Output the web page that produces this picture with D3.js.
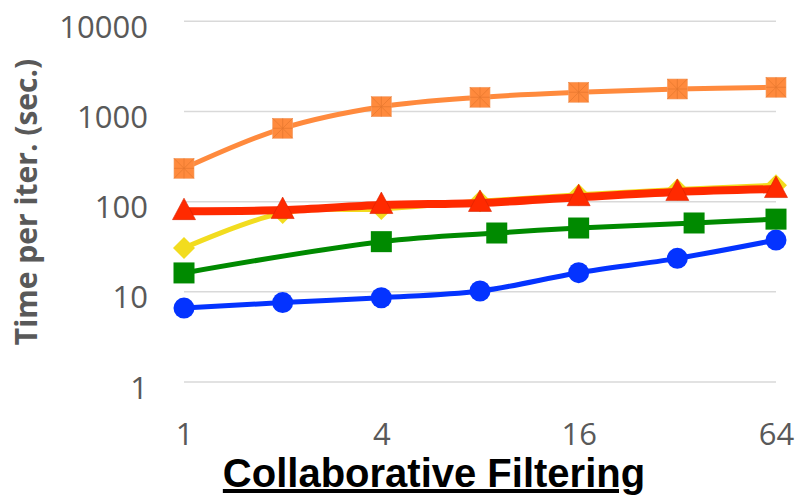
<!DOCTYPE html>
<html>
<head>
<meta charset="utf-8">
<script src="https://cdn.jsdelivr.net/npm/d3@7"></script>
<style>
  html, body { margin: 0; padding: 0; background: #fff; }
  svg { display: block; }
</style>
</head>
<body>
<svg id="chart" width="798" height="502"></svg>
<script>
// Machines on the x axis (log2 scale) and time per iteration (log10 scale)
const xTicks = [1, 4, 16, 64];
const yTicks = [1, 10, 100, 1000, 10000];

const xAll = [1, 2, 4, 8, 16, 32, 64];
const xSquares = [1, 4, 9, 16, 36, 64];

const orangeValues = [234, 651, 1130, 1437, 1633, 1775, 1855];
const yellowValues = [30.6, 75, 83, 101, 119, 136, 152];
const redValues = [78.5, 80.7, 91.7, 96.7, 112, 128, 138];
const greenValues = [16.2, 36, 44.9, 51, 58, 64];
const blueValues = [6.6, 7.6, 8.6, 10.2, 16.3, 23.5, 37.5];

const xTitle = "Collaborative Filtering";
const yTitle = "Time per iter. (sec.)";

const svg = d3.select("#chart");

const x = d3.scaleLog().base(2).domain([1, 64]).range([184, 776]);
const y = d3.scaleLog().domain([1, 10000]).range([382, 21.3]);

// horizontal gridlines
svg.append("g")
  .selectAll("line")
  .data(yTicks)
  .join("line")
  .attr("x1", 184).attr("x2", 776)
  .attr("y1", d => y(d)).attr("y2", d => y(d))
  .attr("stroke", "#d9d9d9")
  .attr("stroke-width", 1.5);

// y axis labels
const yAxis = d3.axisLeft(y).tickValues(yTicks).tickFormat(d3.format("d")).tickSize(0).tickPadding(0);
const gy = svg.append("g").attr("transform", "translate(148,0)").call(yAxis);
gy.select(".domain").remove();
gy.selectAll("text")
  .attr("font-family", "'Open Sans', sans-serif")
  .attr("font-size", 31)
  .attr("fill", "#595959")
  .attr("dy", 16)
  .attr("text-anchor", "end");

// x axis labels
const xAxis = d3.axisBottom(x).tickValues(xTicks).tickFormat(d3.format("d")).tickSize(0).tickPadding(0);
const gx = svg.append("g").attr("transform", "translate(0,445)").call(xAxis);
gx.select(".domain").remove();
gx.selectAll("text")
  .attr("font-family", "'Open Sans', sans-serif")
  .attr("font-size", 31)
  .attr("fill", "#595959")
  .attr("y", 0)
  .attr("dy", 0);

// axis titles
svg.append("text")
  .attr("transform", "translate(37,202) rotate(-90)")
  .attr("text-anchor", "middle")
  .attr("font-family", "'Open Sans', sans-serif")
  .attr("font-weight", "bold")
  .attr("font-size", 30)
  .attr("fill", "#595959")
  .text(yTitle);

svg.append("text")
  .attr("x", 434).attr("y", 487)
  .attr("text-anchor", "middle")
  .attr("font-family", "'Liberation Sans', Arial, sans-serif")
  .attr("font-weight", "bold")
  .attr("font-size", 40)
  .attr("fill", "#000")
  .style("text-decoration", "underline")
  .text(xTitle);

// series
const line = d3.line()
  .x(d => x(d[0]))
  .y(d => y(d[1]))
  .curve(d3.curveCatmullRom.alpha(0.5));

function pairs(xs, vs) { return xs.map((xv, i) => [xv, vs[i]]); }

const series = [
  { key: "blue", pts: pairs(xAll, blueValues), color: "#0433ff", width: 5, marker: "circle" },
  { key: "green", pts: pairs(xSquares, greenValues), color: "#008a00", width: 5, marker: "square" },
  { key: "yellow", pts: pairs(xAll, yellowValues), color: "#f2dc1f", width: 5, marker: "diamond" },
  { key: "red", pts: pairs(xAll, redValues), color: "#ff2a00", width: 8, marker: "triangle" },
  { key: "orange", pts: pairs(xAll, orangeValues), color: "#ff8a3d", width: 5, marker: "xsquare" }
];

series.forEach(s => {
  const g = svg.append("g").attr("class", "series-" + s.key);
  g.append("path")
    .datum(s.pts)
    .attr("d", line)
    .attr("fill", "none")
    .attr("stroke", s.color)
    .attr("stroke-width", s.width)
    .attr("stroke-linejoin", "round");

  const m = g.selectAll("g.m")
    .data(s.pts)
    .join("g")
    .attr("class", "m")
    .attr("transform", d => `translate(${x(d[0])},${y(d[1])})`);

  if (s.marker === "circle") {
    m.append("circle").attr("r", 10.5).attr("fill", s.color);
  } else if (s.marker === "square") {
    m.append("rect").attr("x", -10.5).attr("y", -10.5).attr("width", 21).attr("height", 21)
      .attr("fill", s.color);
  } else if (s.marker === "diamond") {
    m.append("path").attr("d", "M0,-11L11,0L0,11L-11,0Z").attr("fill", s.color);
  } else if (s.marker === "triangle") {
    m.append("path").attr("d", "M0,-13L11.5,8.5L-11.5,8.5Z")
      .attr("fill", s.color).attr("stroke", "#d62400").attr("stroke-width", 0.6);
  } else if (s.marker === "xsquare") {
    m.append("rect").attr("x", -10).attr("y", -10).attr("width", 20).attr("height", 20)
      .attr("fill", s.color).attr("stroke", "#f2a06a").attr("stroke-width", 0.6);
    m.append("path").attr("d", "M-10,-10L10,10M10,-10L-10,10M0,-10L0,10M-10,0L10,0")
      .attr("stroke", "#e0732b").attr("stroke-width", 0.7).attr("opacity", 0.8);
  }
});
</script>
</body>
</html>
